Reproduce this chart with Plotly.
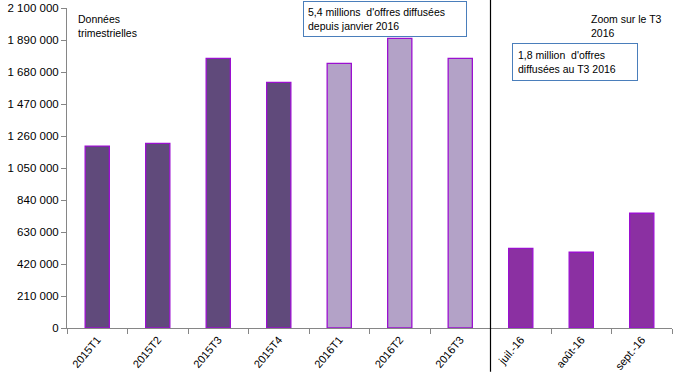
import plotly.graph_objects as go

categories = ["2015T1", "2015T2", "2015T3", "2015T4", "2016T1", "2016T2", "2016T3",
              "juil.-16", "août-16", "sept.-16"]
values = [1194000, 1212000, 1770000, 1612000, 1737000, 1901000, 1770000,
          523000, 497000, 753000]
bar_colors = ["#604A7B"] * 4 + ["#B3A2C7"] * 3 + ["#8B30A2"] * 3

ytick_vals = [0, 210000, 420000, 630000, 840000, 1050000, 1260000, 1470000,
              1680000, 1890000, 2100000]
ytick_text = ["0", "210 000", "420 000", "630 000", "840 000", "1 050 000",
              "1 260 000", "1 470 000", "1 680 000", "1 890 000", "2 100 000"]

FONT = "Liberation Sans, Arial, sans-serif"

fig = go.Figure()
fig.add_trace(go.Bar(
    x=categories, y=values, width=0.4,
    marker=dict(color=bar_colors, line=dict(color="#9B10D0", width=1.3)),
    hoverinfo="x+y",
))

fig.update_layout(
    width=673, height=384,
    margin=dict(l=67, r=1, t=8, b=56, autoexpand=False),
    paper_bgcolor="white", plot_bgcolor="white",
    showlegend=False,
    font=dict(family=FONT, size=11, color="black"),
    bargap=0.6,
)
fig.update_xaxes(
    type="category", automargin=False,
    showline=True, linecolor="#868686", linewidth=1,
    ticks="outside", tickson="boundaries", ticklen=5, tickcolor="#868686",
    tickangle=-50, tickfont=dict(size=11, family=FONT),
    showgrid=False, zeroline=False,
)
fig.update_yaxes(
    range=[0, 2100000], automargin=False,
    tickvals=ytick_vals, ticktext=ytick_text,
    showline=True, linecolor="#868686", linewidth=1,
    ticks="outside", ticklen=5, tickcolor="#868686",
    tickfont=dict(size=11.5, family=FONT),
    showgrid=False, zeroline=False,
)

# vertical separator between quarterly data and monthly zoom
fig.add_shape(type="line", xref="x", yref="paper", x0=6.5, x1=6.5,
              y0=-0.137, y1=1.025, line=dict(color="black", width=1.2))

fig.add_annotation(xref="paper", yref="paper", x=0.015, y=0.99,
                   xanchor="left", yanchor="top", align="left", showarrow=False,
                   text="Données<br>trimestrielles", font=dict(size=10.5))
fig.add_annotation(xref="paper", yref="paper", x=0.862, y=0.99,
                   xanchor="left", yanchor="top", align="left", showarrow=False,
                   text="Zoom sur le T3<br>2016", font=dict(size=10.5))
fig.add_annotation(xref="paper", yref="paper", x=0.39, y=1.022,
                   xanchor="left", yanchor="top", align="left", showarrow=False,
                   text="5,4 millions  d'offres diffusées<br>depuis janvier 2016",
                   font=dict(size=10.5), bordercolor="#4A7EBB", borderwidth=1,
                   borderpad=4, width=154, bgcolor="white")
fig.add_annotation(xref="paper", yref="paper", x=0.735, y=0.89,
                   xanchor="left", yanchor="top", align="left", showarrow=False,
                   text="1,8 million  d'offres<br>diffusées au T3 2016",
                   font=dict(size=10.5), bordercolor="#4A7EBB", borderwidth=1,
                   borderpad=5, width=114, bgcolor="white")

fig.write_html("out.html", config={"displayModeBar": False},
               post_script="document.body.style.margin='0px';")
